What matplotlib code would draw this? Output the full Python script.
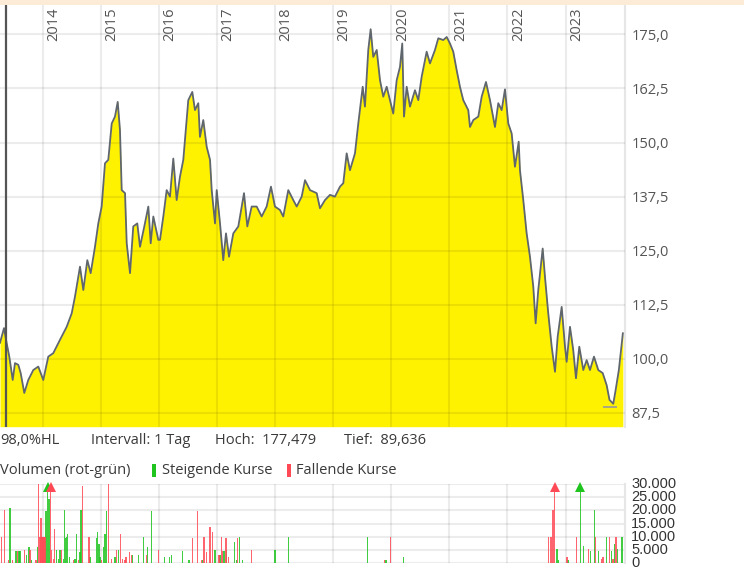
import numpy as np
import matplotlib
matplotlib.use("Agg")
import matplotlib.pyplot as plt
from matplotlib.transforms import blended_transform_factory

# ---------------- data ----------------
price_t = [2013.265, 2013.334, 2013.380, 2013.425, 2013.484, 2013.523, 2013.580, 2013.621, 2013.683,
           2013.752, 2013.838, 2013.924, 2014.010, 2014.096, 2014.182, 2014.298, 2014.413, 2014.499,
           2014.556, 2014.642, 2014.699, 2014.768, 2014.826, 2014.900, 2014.957, 2015.015, 2015.072,
           2015.129, 2015.188, 2015.244, 2015.291, 2015.330, 2015.360, 2015.417, 2015.446, 2015.503,
           2015.559, 2015.628, 2015.675, 2015.749, 2015.818, 2015.859, 2015.904, 2015.990, 2016.019,
           2016.076, 2016.134, 2016.191, 2016.248, 2016.306, 2016.363, 2016.420, 2016.449, 2016.506,
           2016.575, 2016.621, 2016.678, 2016.707, 2016.764, 2016.823, 2016.880, 2016.909, 2016.966,
           2016.995, 2017.052, 2017.108, 2017.155, 2017.207, 2017.281, 2017.367, 2017.465, 2017.522,
           2017.597, 2017.683, 2017.769, 2017.855, 2017.929, 2017.998, 2018.084, 2018.141, 2018.227,
           2018.313, 2018.372, 2018.458, 2018.515, 2018.601, 2018.716, 2018.773, 2018.859, 2018.945,
           2019.031, 2019.117, 2019.174, 2019.232, 2019.289, 2019.375, 2019.432, 2019.508, 2019.547,
           2019.604, 2019.645, 2019.690, 2019.749, 2019.806, 2019.862, 2019.921, 2019.978, 2020.034,
           2020.093, 2020.150, 2020.189, 2020.219, 2020.265, 2020.322, 2020.408, 2020.465, 2020.523,
           2020.609, 2020.666, 2020.752, 2020.809, 2020.895, 2020.954, 2021.010, 2021.067, 2021.126,
           2021.182, 2021.239, 2021.325, 2021.355, 2021.412, 2021.498, 2021.556, 2021.630, 2021.699,
           2021.785, 2021.842, 2021.900, 2021.957, 2022.014, 2022.072, 2022.129, 2022.193, 2022.215,
           2022.272, 2022.330, 2022.387, 2022.444, 2022.485, 2022.530, 2022.606, 2022.645, 2022.702,
           2022.761, 2022.818, 2022.864, 2022.933, 2022.990, 2023.019, 2023.076, 2023.132, 2023.179,
           2023.236, 2023.305, 2023.363, 2023.420, 2023.489, 2023.563, 2023.639, 2023.707, 2023.756,
           2023.821, 2023.862, 2023.917, 2023.986]
price_v = [103.7, 107.1, 103.6, 100.5, 95.1, 99.0, 98.6, 96.7, 92.1,
           95.1, 97.4, 98.2, 95.1, 100.5, 101.3, 104.4, 107.4, 110.5,
           114.4, 121.3, 115.9, 122.8, 119.8, 125.9, 131.3, 135.2, 145.2,
           146.0, 154.4, 156.0, 159.4, 152.9, 139.0, 138.3, 126.7, 119.8,
           130.6, 131.3, 125.9, 130.6, 135.2, 126.7, 132.9, 127.5, 127.5,
           132.9, 139.0, 137.5, 146.3, 136.7, 142.1, 146.0, 150.6, 159.8,
           161.7, 157.5, 159.1, 151.3, 155.2, 149.0, 146.0, 139.0, 131.3,
           139.0, 131.3, 122.8, 129.0, 123.6, 129.0, 130.6, 138.3, 130.6,
           135.2, 135.2, 132.9, 135.2, 139.8, 135.2, 134.4, 132.9, 139.0,
           136.7, 135.2, 137.5, 141.3, 139.0, 138.3, 134.8, 136.7, 137.9,
           137.5, 139.8, 140.6, 147.5, 143.6, 147.5, 154.4, 162.9, 158.3,
           171.4, 176.2, 169.8, 171.4, 164.4, 160.6, 162.9, 159.8, 156.7,
           164.4, 167.5, 172.9, 156.0, 162.9, 158.3, 162.1, 159.8, 165.2,
           171.0, 168.3, 171.4, 174.1, 173.7, 174.4, 172.9, 171.0, 166.7,
           162.9, 159.8, 157.5, 153.6, 155.2, 156.0, 160.6, 164.0, 159.8,
           153.6, 159.1, 157.5, 162.3, 154.4, 152.1, 144.4, 150.2, 143.6,
           136.7, 129.0, 123.6, 116.7, 108.2, 115.9, 125.5, 119.0, 110.5,
           102.8, 97.0, 105.1, 112.0, 102.8, 99.3, 107.4, 102.0, 95.5,
           102.8, 97.4, 99.7, 97.4, 100.5, 97.4, 96.7, 93.9, 90.5,
           89.6, 92.8, 97.4, 105.9]

vol_t = [2013.294, 2013.346, 2013.408, 2013.437, 2013.484, 2013.540, 2013.563, 2013.592, 2013.609,
         2013.683, 2013.725, 2013.764, 2013.781, 2013.811, 2013.885, 2013.907, 2013.928, 2013.945,
         2013.962, 2013.971, 2013.988, 2014.005, 2014.022, 2014.040, 2014.057, 2014.086, 2014.108,
         2014.138, 2014.155, 2014.182, 2014.200, 2014.241, 2014.269, 2014.298, 2014.327, 2014.355,
         2014.372, 2014.396, 2014.413, 2014.430, 2014.458, 2014.527, 2014.556, 2014.585, 2014.613,
         2014.642, 2014.659, 2014.682, 2014.797, 2014.814, 2014.929, 2014.947, 2014.969, 2014.986,
         2015.015, 2015.043, 2015.072, 2015.095, 2015.129, 2015.188, 2015.244, 2015.274, 2015.301,
         2015.342, 2015.377, 2015.417, 2015.434, 2015.491, 2015.532, 2015.550, 2015.645, 2015.731,
         2015.790, 2015.807, 2015.876, 2015.990, 2016.093, 2016.179, 2016.220, 2016.410, 2016.518,
         2016.582, 2016.661, 2016.730, 2016.747, 2016.776, 2016.823, 2016.880, 2016.926, 2016.966,
         2017.034, 2017.052, 2017.081, 2017.098, 2017.120, 2017.155, 2017.167, 2017.201, 2017.298,
         2017.339, 2017.356, 2017.384, 2017.442, 2017.590, 2017.998, 2018.234, 2019.594, 2019.880,
         2019.909, 2019.990, 2020.213, 2022.709, 2022.749, 2022.783, 2022.812, 2022.852, 2022.874,
         2023.024, 2023.041, 2023.184, 2023.253, 2023.312, 2023.398, 2023.425, 2023.494, 2023.511,
         2023.570, 2023.615, 2023.644, 2023.701, 2023.759, 2023.787, 2023.816, 2023.839, 2023.868,
         2023.897, 2023.971]
vol_v = [10000, 20000, 1000, 21000, 1000, 4500, 4500, 4500, 4500,
         5000, 3000, 6000, 5000, 1000, 1000, 6000, 30000, 10000,
         10000, 17000, 10000, 10000, 10000, 10000, 19800, 40000, 24500,
         40000, 5000, 1500, 13000, 5000, 1500, 5000, 5000, 1500,
         20000, 9300, 10000, 11000, 2300, 1000, 1500, 11000, 1000,
         4200, 20000, 29500, 10000, 2300, 9300, 11800, 7300, 2300,
         1000, 6000, 11000, 19800, 30000, 1500, 2000, 5000, 5000,
         11000, 1500, 1000, 2000, 4200, 3000, 3000, 3000, 10000,
         3000, 6000, 19800, 5000, 2000, 2000, 3000, 4500, 1000,
         9300, 19800, 1000, 1000, 10000, 4200, 13800, 11800, 5000,
         3000, 3000, 10000, 4500, 4500, 9300, 5000, 2000, 8000,
         1000, 9300, 10000, 1000, 5000, 5000, 10000, 10000, 1000,
         1000, 10000, 2000, 10000, 10000, 20000, 40000, 5300, 1000,
         2000, 1000, 10000, 40000, 6500, 5300, 4500, 20000, 10000,
         4500, 1300, 2200, 10000, 10000, 4500, 1300, 7300, 10000,
         5300, 10000]
vol_up = [0, 0, 0, 1, 0, 1, 0, 1, 1,
          0, 1, 1, 0, 1, 0, 1, 0, 0,
          0, 0, 0, 0, 0, 0, 1, 1, 1,
          0, 0, 0, 0, 1, 1, 1, 0, 1,
          1, 1, 1, 1, 1, 0, 1, 1, 0,
          1, 1, 0, 0, 1, 1, 1, 1, 1,
          0, 1, 1, 1, 0, 0, 1, 0, 1,
          0, 0, 0, 0, 0, 0, 1, 1, 1,
          0, 1, 1, 0, 1, 1, 1, 1, 1,
          0, 0, 0, 1, 0, 0, 0, 0, 1,
          0, 1, 0, 0, 1, 0, 1, 0, 1,
          1, 0, 1, 1, 0, 1, 1, 1, 0,
          1, 0, 1, 0, 0, 0, 0, 1, 1,
          0, 1, 0, 1, 1, 0, 1, 1, 0,
          1, 0, 0, 1, 0, 1, 0, 1, 0,
          1, 1]

years = list(range(2014, 2024))
price_ticks = [87.5, 100.0, 112.5, 125.0, 137.5, 150.0, 162.5, 175.0]
vol_ticks = [0, 5000, 10000, 15000, 20000, 25000, 30000]
vol_tick_labels = ["0", "5.000", "10.000", "15.000", "20.000", "25.000", "30.000"]
crosshair_t = 2013.363
low_mark = 88.8
low_span = (2023.64, 2023.88)
info_texts = ["98,0%HL", "Intervall: 1 Tag", "Hoch:  177,479", "Tief:  89,636"]
legend_title = "Volumen (rot-grün)"
legend_up = "Steigende Kurse"
legend_down = "Fallende Kurse"

# ---------------- style ----------------
W, H = 744, 570
fig = plt.figure(figsize=(W / 100, H / 100), dpi=100)
fig.patch.set_facecolor("white")
FONT = ["Open Sans", "DejaVu Sans"]
TXT = "#3a3a3a"
YELLOW = "#fff200"
LINE = "#5f666d"
GREEN = "#1fc41f"
RED = "#ff4a55"
GRID = (0, 0, 0, 0.075)

def fx(px):
    return px / W

def fy(py):
    return 1 - py / H

xmin, xmax = 2013.265, 2024.028
ymin, ymax = 84.3, 181.8

# beige band at top
fig.patches.append(plt.Rectangle((0, fy(4.5)), 1, 1 - fy(4.5), transform=fig.transFigure,
                                 facecolor="#fbebd7", edgecolor="none"))

ax = fig.add_axes([0, fy(426.7), fx(625.3), fy(5) - fy(426.7)])
ax.set_xlim(xmin, xmax)
ax.set_ylim(ymin, ymax)
ax.fill_between(price_t, price_v, ymin, color=YELLOW, lw=0, zorder=1)
ax.plot(price_t, price_v, color=LINE, lw=1.3, zorder=4)
for y in years:
    ax.axvline(y, color=GRID, lw=1.5, zorder=3)
for p in price_ticks:
    ax.axhline(p, color=GRID, lw=1.5, zorder=3)
ax.axvline(crosshair_t, color="#555555", lw=1.6, zorder=5)
ax.hlines(low_mark, low_span[0], low_span[1], color="#9a9a9a", lw=1.2, zorder=5)
for s in ["left", "top", "bottom"]:
    ax.spines[s].set_visible(False)
ax.spines["right"].set_color("#e6e6e6")
ax.spines["right"].set_linewidth(1.5)
ax.set_xticks([])
ax.yaxis.tick_right()
ax.set_yticks(price_ticks)
ax.set_yticklabels([f"{p:.1f}".replace(".", ",") for p in price_ticks],
                   fontfamily=FONT, fontsize=10.5, color="#555555")
ax.tick_params(axis="y", length=0, pad=4.3)

tr = blended_transform_factory(ax.transData, ax.transAxes)
for y in years:
    ax.text(y + 0.19, 0.994, str(y), rotation=90, ha="center", va="top", transform=tr,
            fontfamily=FONT, fontsize=10.5, color="#555555", zorder=6)

# info line
info_x = [0, 91, 215, 344]
for x, t in zip(info_x, info_texts):
    fig.text(fx(x), fy(441), t, ha="left", va="center", fontfamily=FONT, fontsize=10.5, color=TXT)

# legend line
fig.text(fx(0), fy(470.5), legend_title, ha="left", va="center", fontfamily=FONT, fontsize=10.5, color=TXT)
fig.patches.append(plt.Rectangle((fx(152), fy(477)), fx(3.5), fy(464) - fy(477), transform=fig.transFigure,
                                 facecolor=GREEN, edgecolor="none"))
fig.text(fx(161.5), fy(470.5), legend_up, ha="left", va="center", fontfamily=FONT, fontsize=10.5, color=TXT)
fig.patches.append(plt.Rectangle((fx(287), fy(477)), fx(3.5), fy(464) - fy(477), transform=fig.transFigure,
                                 facecolor=RED, edgecolor="none"))
fig.text(fx(296), fy(470.5), legend_down, ha="left", va="center", fontfamily=FONT, fontsize=10.5, color=TXT)

# volume panel
vmax = 30000
ax2 = fig.add_axes([0, fy(562.7), fx(625.3), fy(484.3) - fy(562.7)])
ax2.set_xlim(xmin, xmax)
ax2.set_ylim(0, vmax * 1.0)
vt = np.array(vol_t)
vv = np.array(vol_v, dtype=float)
vu = np.array(vol_up, dtype=bool)
vclip = np.minimum(vv, vmax)
bw = 1.4 / 58.1
ax2.bar(vt[vu], vclip[vu], width=bw, color=GREEN, alpha=0.85, lw=0, zorder=3)
ax2.bar(vt[~vu], vclip[~vu], width=bw, color=RED, alpha=0.85, lw=0, zorder=3)
over = vv > vmax
for t, u in zip(vt[over], vu[over]):
    ax2.plot([t], [vmax * 0.965], marker="^", markersize=6.5, color=GREEN if u else RED,
             zorder=4, clip_on=False, markeredgewidth=0)
for y in years:
    ax2.axvline(y, color=GRID, lw=1.5, zorder=1)
for v in vol_ticks:
    ax2.axhline(v, color=GRID, lw=1.5, zorder=1)
for s in ["left", "top", "bottom"]:
    ax2.spines[s].set_visible(False)
ax2.spines["right"].set_color("#e6e6e6")
ax2.spines["right"].set_linewidth(1.5)
ax2.set_xticks([])
ax2.yaxis.tick_right()
ax2.set_yticks(vol_ticks)
ax2.set_yticklabels(vol_tick_labels, fontfamily=["Liberation Sans", "DejaVu Sans"], fontsize=10.5, color="#333333")
ax2.tick_params(axis="y", length=0, pad=4.3)
for lbl in ax2.get_yticklabels():
    lbl.set_verticalalignment("center")

fig.savefig("out.png", dpi=100, facecolor="white")
